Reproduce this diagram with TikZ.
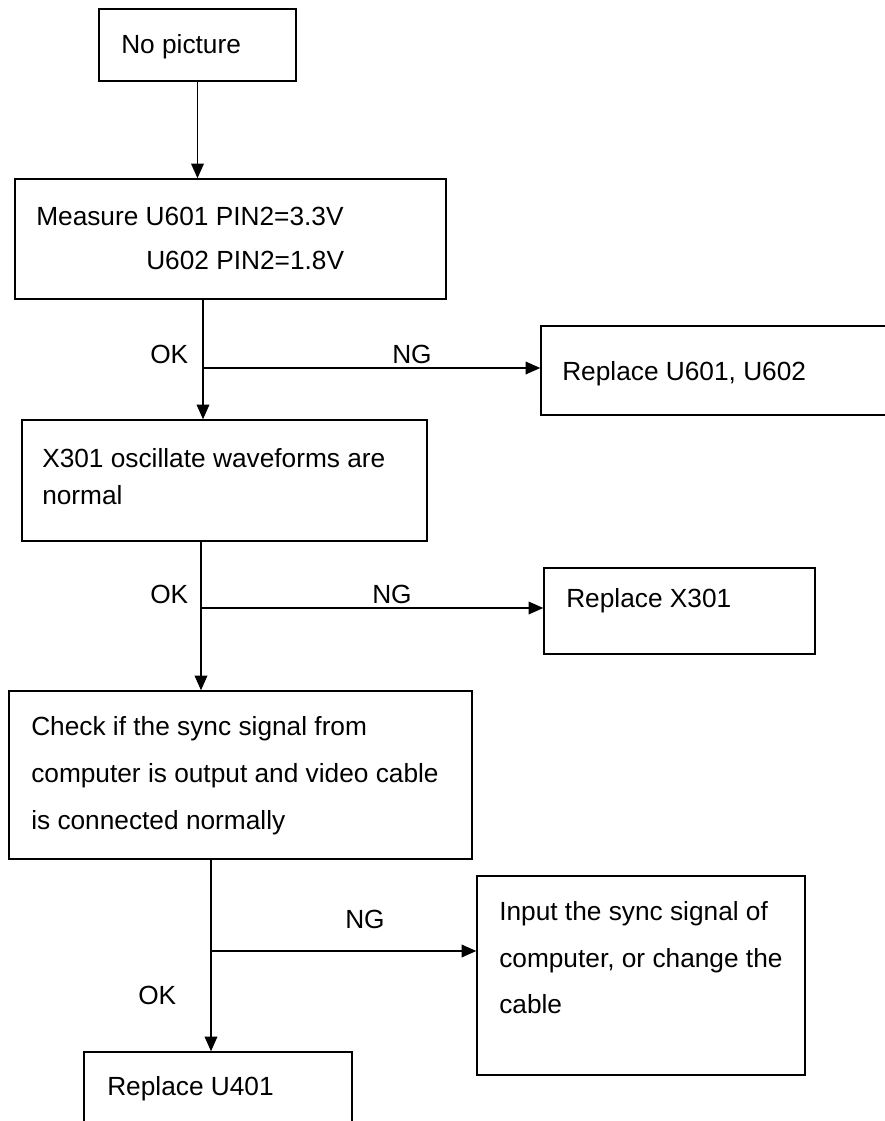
\documentclass[tikz,border=0pt]{standalone}
\usepackage{fontspec}
\setmainfont{Liberation Sans}
\usetikzlibrary{arrows.meta,fit}
\begin{document}
\begin{tikzpicture}[x=0.75pt,y=-0.75pt,
  box/.style={draw,line width=1.1pt,rectangle,inner sep=0pt},
  txt/.style={anchor=base west,inner sep=0pt,font=\fontsize{19.7}{23}\selectfont},
  conn/.style={line width=1.1pt,-{Triangle[length=11pt,width=9.5pt]}}]
\useasboundingbox (0,0) rectangle (885,1121);
\clip (0,0) rectangle (885,1121);
% boxes
\node[box,fit={(99,9) (296,81)}] (b1) {};
\node[box,fit={(15,179) (446,299)}] (b2) {};
\node[box,fit={(541,326) (895,415)}] (b3) {};
\node[box,fit={(22,420) (427,541)}] (b4) {};
\node[box,fit={(544,568) (815,654)}] (b5) {};
\node[box,fit={(9,691) (472,859)}] (b6) {};
\node[box,fit={(477,876) (805,1075)}] (b7) {};
\node[box,fit={(84,1052) (352,1135)}] (b8) {};
% texts
\node[txt] (t1) at (121,53) {No picture};
\node[txt] (t2a) at (36,225) {Measure U601 PIN2=3.3V};
\node[txt] (t2b) at (146,269) {U602 PIN2=1.8V};
\node[txt] (t3) at (562,380) {Replace U601, U602};
\node[txt] (t4a) at (42,467) {X301 oscillate waveforms are};
\node[txt] (t4b) at (42,504) {normal};
\node[txt] (t5) at (566,607) {Replace X301};
\node[txt] (t6a) at (31,735) {Check if the sync signal from};
\node[txt] (t6b) at (31,782) {computer is output and video cable};
\node[txt] (t6c) at (31,829) {is connected normally};
\node[txt] (t7a) at (499,920) {Input the sync signal of};
\node[txt] (t7b) at (499,967) {computer, or change the};
\node[txt] (t7c) at (499,1013) {cable};
\node[txt] (t8) at (107,1095) {Replace U401};
% labels
\node[txt] (ok1) at (150,363) {OK};
\node[txt] (ng1) at (392,363) {NG};
\node[txt] (ok2) at (150,603) {OK};
\node[txt] (ng2) at (372,603) {NG};
\node[txt] (ng3) at (345,928) {NG};
\node[txt] (ok3) at (138,1004) {OK};
% connector coordinates
\coordinate (v1) at (203,368);
\coordinate (v2) at (201,608);
\coordinate (v3) at (211,951);
% connectors
\draw[conn] (b1.south) -- (b1.south |- b2.north);
\draw[conn] (b2.south -| v1) -- (b4.north -| v1);
\draw[conn] (v1) -- (v1 -| b3.west);
\draw[conn] (b4.south -| v2) -- (b6.north -| v2);
\draw[conn] (v2) -- (v2 -| b5.west);
\draw[conn] (b6.south -| v3) -- (b8.north -| v3);
\draw[conn] (v3) -- (v3 -| b7.west);
\end{tikzpicture}
\end{document}
